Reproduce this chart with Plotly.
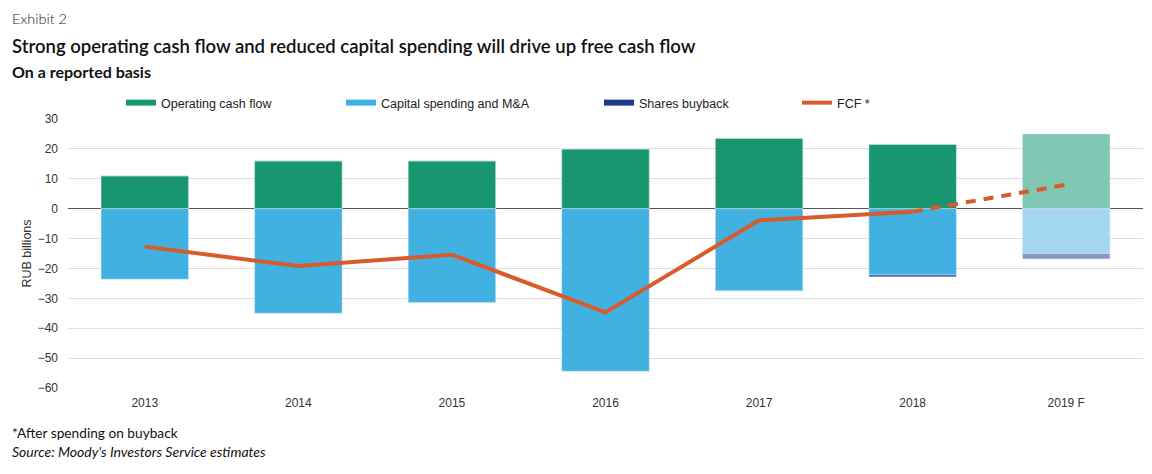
import plotly.graph_objects as go

# ---- data (RUB billions) ----
years = ["2013", "2014", "2015", "2016", "2017", "2018", "2019 F"]
operating_cf = [11, 16, 16, 20, 23.6, 21.5, 25]
capex_ma = [-23.6, -35, -31.4, -54.4, -27.5, -22.2, -15]
buyback = [0, 0, 0, 0, 0, -0.6, -1.8]
fcf = [-12.7, -19.2, -15.4, -34.7, -3.9, -1.0, 8.0]
n_actual = 6  # first six years are reported, last is forecast

# ---- styles ----
W, H = 1152, 474
L, R, T, B = 68, 1143, 119, 388
C_OCF, C_OCF_F = "#17966f", "#80c8b4"
C_CAP, C_CAP_F = "#40b1e1", "#a2d7ef"
C_BUY, C_BUY_F = "#1f3a8a", "#8697c8"
C_FCF = "#d95b2b"
AX_FONT = "Liberation Sans, Arial, sans-serif"
TXT_FONT = "Lato, Open Sans, sans-serif"


def px_x(px):
    return (px - L) / (R - L)


def px_y(py):
    return (B - py) / (B - T)


def shade(base, fc):
    return [base] * n_actual + [fc] * (len(years) - n_actual)


fig = go.Figure()
fig.add_bar(x=years, y=operating_cf, name="Operating cash flow",
            marker_color=shade(C_OCF, C_OCF_F), width=0.57, showlegend=False)
fig.add_bar(x=years, y=capex_ma, name="Capital spending and M&A",
            marker_color=shade(C_CAP, C_CAP_F), width=0.57, showlegend=False)
fig.add_bar(x=years, y=buyback, name="Shares buyback",
            marker_color=shade(C_BUY, C_BUY_F), width=0.57, showlegend=False)
fig.add_scatter(x=years[:n_actual], y=fcf[:n_actual], mode="lines",
                line=dict(color=C_FCF, width=4), showlegend=False)
fig.add_scatter(x=years[n_actual - 1:], y=fcf[n_actual - 1:], mode="lines",
                line=dict(color=C_FCF, width=4, dash="10px,8px"), showlegend=False)

# legend entries (one legend per entry so they can sit where the original has them)
leg_items = [("Operating cash flow", C_OCF, 6, 121),
             ("Capital spending and M&A", C_CAP, 6, 341),
             ("Shares buyback", C_BUY, 6, 599),
             ("FCF *", C_FCF, 4, 797)]
legend_layouts = {}
for i, (name, col, lw, lx) in enumerate(leg_items):
    key = "legend" if i == 0 else f"legend{i + 1}"
    fig.add_scatter(x=[None], y=[None], mode="lines", name=name,
                    line=dict(color=col, width=lw), legend=key)
    legend_layouts[key] = dict(x=px_x(lx), y=px_y(103), xanchor="left", yanchor="middle",
                               orientation="h", bgcolor="rgba(0,0,0,0)", borderwidth=0,
                               font=dict(family=AX_FONT, size=12.5, color="#222"))

fig.update_layout(
    width=W, height=H,
    margin=dict(l=L, r=W - R, t=T, b=H - B),
    barmode="relative", bargap=0.43,
    plot_bgcolor="white", paper_bgcolor="white",
    **legend_layouts,
    xaxis=dict(showgrid=False, showline=False, ticks="", ticklabelstandoff=6,
               tickfont=dict(family=AX_FONT, size=12, color="#333")),
    yaxis=dict(range=[-60, 30], dtick=10, showgrid=True, gridcolor="#dedede", gridwidth=1,
               zeroline=True, zerolinecolor="#555", zerolinewidth=1, showline=False,
               ticks="", ticklabelstandoff=9,
               tickfont=dict(family=AX_FONT, size=12, color="#333"),
               title=dict(text="RUB billions", standoff=3,
                          font=dict(family=AX_FONT, size=12.5, color="#333"))),
)

annots = [
    ("Exhibit 2", 10, 18, dict(family=TXT_FONT, size=14.5, color="#222", weight=300)),
    ("Strong operating cash flow and reduced capital spending will drive up free cash flow", 10, 46,
     dict(family=TXT_FONT, size=18.5, color="#111", weight=600)),
    ("On a reported basis", 10, 71, dict(family=TXT_FONT, size=16, color="#111", weight=700)),
    ("*After spending on buyback", 10, 432, dict(family=TXT_FONT, size=13.7, color="#111")),
    ("<i>Source: Moody's Investors Service estimates</i>", 10, 451,
     dict(family=TXT_FONT, size=14, color="#111")),
]
for text, x, y, f in annots:
    fig.add_annotation(text=text, xref="paper", yref="paper", x=px_x(x), y=px_y(y),
                       xanchor="left", yanchor="middle", showarrow=False, font=f)

fig.write_html("out.html")
